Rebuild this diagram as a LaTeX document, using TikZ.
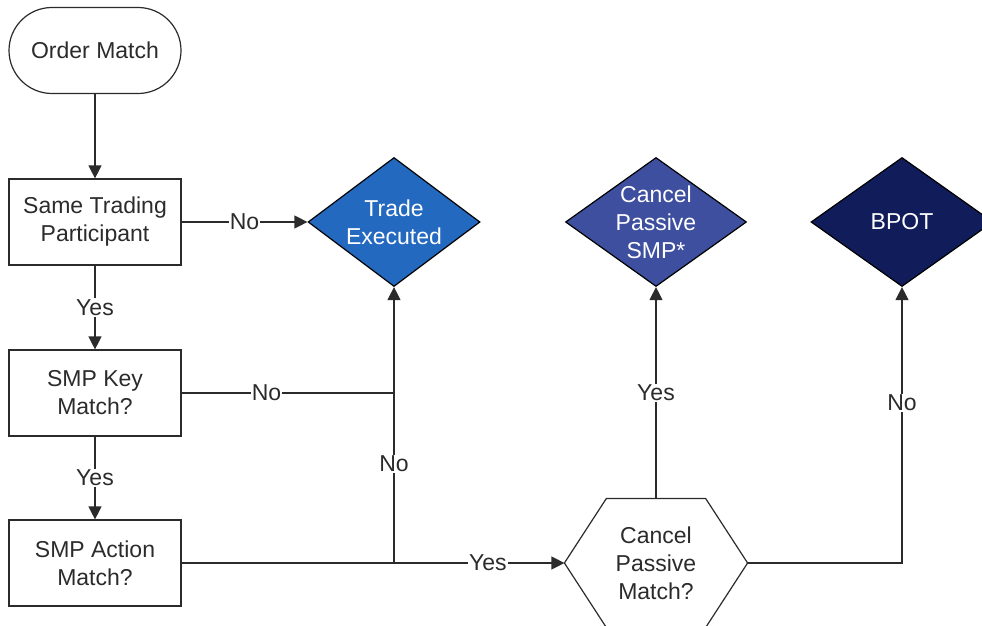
\documentclass[tikz,border=0pt]{standalone}
\usepackage{fontspec}
\setmainfont{Liberation Sans}
\usetikzlibrary{shapes.geometric,arrows.meta}
\definecolor{tradeblue}{HTML}{2469C0}
\definecolor{cancelblue}{HTML}{3E4F9F}
\definecolor{bpotblue}{HTML}{111D5A}
\definecolor{inkgray}{HTML}{2B2B2B}
\tikzset{
  flowbox/.style = {draw, rectangle, minimum width = 172pt, minimum height = 86pt, align = center, inner sep = 0pt},
  startbox/.style = {flowbox, rounded corners = 43pt},
  outcome/.style = {draw = black, diamond, inner sep = -20pt, minimum height = 129pt, text = white, align = center},
  choice/.style = {rectangle, minimum width = 182pt, minimum height = 128pt, align = center, inner sep = 0pt},
  flow/.style = {-{Triangle[length = 13pt, width = 13pt]}},
  answer/.style = {fill = white, inner sep = 1pt}
}
\begin{document}
\begin{tikzpicture}[x = 1pt, y = -1pt, line width = 1.2pt, color = inkgray, font = \fontsize{23}{28}\selectfont]
\useasboundingbox (0,0) rectangle (982,626);
\node[startbox] (order) at (95,50.5) {Order Match};
\node[flowbox] (same) at (95,222) {Same Trading\\Participant};
\node[flowbox] (key) at (95,393) {SMP Key\\Match?};
\node[flowbox] (action) at (95,563) {SMP Action\\Match?};
\node[outcome, fill = tradeblue, minimum width = 172pt] (trade) at (394,222) {Trade\\Executed};
\node[outcome, fill = cancelblue, minimum width = 181pt] (cancel) at (656,222) {Cancel\\Passive\\SMP*};
\node[outcome, fill = bpotblue, minimum width = 182pt] (bpot) at (902,222) {BPOT};
\node[choice] (passive) at (656,563) {Cancel\\Passive\\Match?};
% hexagon round the last check
\draw (passive.west) -- ([xshift = 42pt]passive.north west) -- ([xshift = -42pt]passive.north east) -- (passive.east) -- ([xshift = -42pt]passive.south east) -- ([xshift = 42pt]passive.south west) -- cycle;
\coordinate (split) at (trade.south |- action.east);
\draw[flow] (order) -- (same);
\draw[flow] (same) -- node[answer] {No} (trade);
\draw[flow] (same) -- node[answer] {Yes} (key);
\draw[flow] (key) -- node[answer] {Yes} (action);
\draw (key.east) -- node[answer, pos = 0.4] {No} (key.east -| split);
\draw[flow] (split) -- node[answer, pos = 0.36] {No} (trade.south);
\draw[flow] (action.east) -- node[answer, pos = 0.8] {Yes} (passive.west);
\draw[flow] (passive.north) -- node[answer] {Yes} (cancel.south);
\draw[flow] (passive.east) -| node[answer, pos = 0.79] {No} (bpot.south);
\end{tikzpicture}
\end{document}
